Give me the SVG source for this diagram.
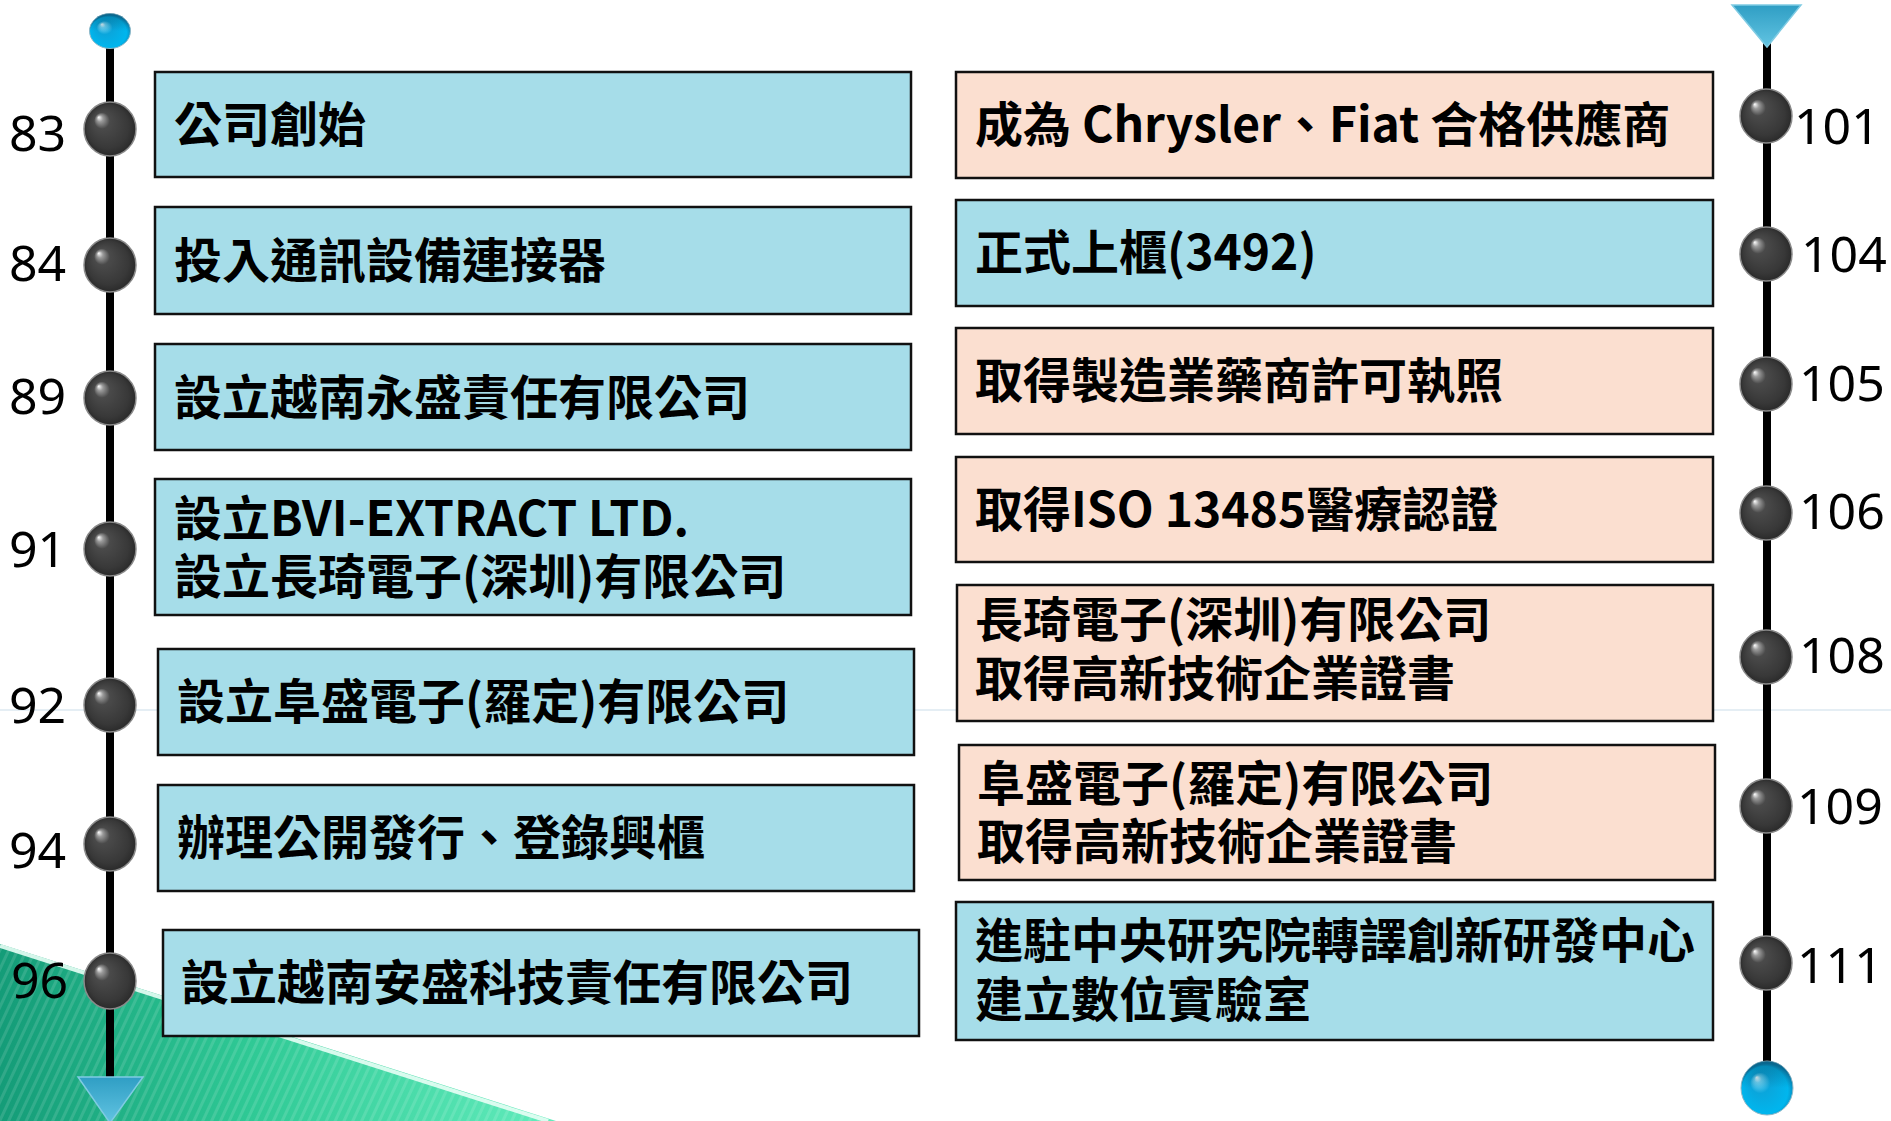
<svg xmlns="http://www.w3.org/2000/svg" width="1891" height="1121" viewBox="0 0 1891 1121">
<defs>
<radialGradient id="ball" cx="0.5" cy="0.5" r="0.5" fx="0.28" fy="0.28">
<stop offset="0" stop-color="#ffffff"/>
<stop offset="0.12" stop-color="#9a9a9a"/>
<stop offset="0.3" stop-color="#4a4a4a"/>
<stop offset="0.8" stop-color="#383838"/>
<stop offset="1" stop-color="#2a2a2a"/>
</radialGradient>
<radialGradient id="bball" cx="0.5" cy="0.6" r="0.55" fx="0.3" fy="0.3">
<stop offset="0" stop-color="#ffffff"/>
<stop offset="0.12" stop-color="#6fd0f0"/>
<stop offset="0.35" stop-color="#0aa6dc"/>
<stop offset="0.8" stop-color="#00b6ee"/>
<stop offset="1" stop-color="#0a7fb0"/>
</radialGradient>
<linearGradient id="bshade" x1="0" y1="0" x2="0" y2="1">
<stop offset="0" stop-color="#08506e" stop-opacity="0.55"/>
<stop offset="0.5" stop-color="#08506e" stop-opacity="0"/>
</linearGradient>
<linearGradient id="tri" x1="0" y1="0" x2="0" y2="1">
<stop offset="0" stop-color="#2f9ec4"/>
<stop offset="1" stop-color="#62c4e2"/>
</linearGradient>
<linearGradient id="green" x1="0" y1="0" x2="1" y2="0">
<stop offset="0" stop-color="#149c78"/>
<stop offset="0.45" stop-color="#2fc995"/>
<stop offset="1" stop-color="#62ecbc"/>
</linearGradient>
<pattern id="stripes" width="8" height="8" patternUnits="userSpaceOnUse" patternTransform="rotate(25)">
<rect width="3" height="8" fill="#ffffff" opacity="0.12"/>
</pattern>
<style>
.bx{fill:#a6dde9;stroke:#111;stroke-width:2.5}
.pk{fill:#fbdfd0;stroke:#111;stroke-width:2.5}
.t{font-family:"Noto Sans CJK TC","Noto Sans",sans-serif;font-size:48px;font-weight:bold;fill:#000}
.n{font-family:"Noto Sans","Open Sans",sans-serif;font-size:50px;fill:#000}
.ln{stroke:#000;stroke-width:8}
.ball{fill:url(#ball);stroke:#8a8a8a;stroke-width:1.5}
</style>
</defs>
<rect width="1891" height="1121" fill="#ffffff"/>
<g id="background">
<line x1="0" y1="710" x2="1891" y2="710" stroke="#dce9f0" stroke-width="1.5"/>
<polygon points="0,944 556,1121 0,1121" fill="url(#green)"/>
<polygon points="0,944 556,1121 0,1121" fill="url(#stripes)"/>
<line x1="0" y1="946" x2="548" y2="1121" stroke="#e8fff6" stroke-width="4" opacity="0.9"/>
</g>
<g id="connectors">
<line class="ln" x1="110" y1="46" x2="110" y2="1078"/>
<line class="ln" x1="1767" y1="38" x2="1767" y2="1063"/>
</g>
<g id="timeline-left-ends">
<ellipse cx="110" cy="31" rx="20.5" ry="17.5" fill="url(#bball)" stroke="#8fb8c8" stroke-width="1"/>
<ellipse cx="110" cy="31" rx="20.5" ry="17.5" fill="url(#bshade)"/>
<polygon points="78,1077 143,1077 110,1123" fill="url(#tri)" stroke="#7fcbe3" stroke-width="1.5"/>
</g>
<g id="timeline-right-ends">
<polygon points="1732,5 1801,5 1767,47" fill="url(#tri)" stroke="#7fcbe3" stroke-width="1.5"/>
<ellipse cx="1767" cy="1088" rx="26" ry="27" fill="url(#bball)" stroke="#8fb8c8" stroke-width="1"/>
<ellipse cx="1767" cy="1088" rx="26" ry="27" fill="url(#bshade)"/>
</g>
<g id="y83"><ellipse class="ball" cx="110" cy="129" rx="26" ry="27"/><text class="n" x="9" y="151">83</text></g>
<g id="y84"><ellipse class="ball" cx="110" cy="265" rx="26" ry="27"/><text class="n" x="9" y="281">84</text></g>
<g id="y89"><ellipse class="ball" cx="110" cy="398" rx="26" ry="27"/><text class="n" x="9" y="414">89</text></g>
<g id="y91"><ellipse class="ball" cx="110" cy="549" rx="26" ry="27"/><text class="n" x="9" y="567">91</text></g>
<g id="y92"><ellipse class="ball" cx="110" cy="705" rx="26" ry="27"/><text class="n" x="9" y="723">92</text></g>
<g id="y94"><ellipse class="ball" cx="110" cy="844" rx="26" ry="27"/><text class="n" x="9" y="868">94</text></g>
<g id="y96"><ellipse class="ball" cx="110" cy="981" rx="26" ry="28"/><text class="n" x="11" y="998">96</text></g>
<g id="y101"><ellipse class="ball" cx="1766" cy="116" rx="26" ry="27"/><text class="n" x="1794" y="144">101</text></g>
<g id="y104"><ellipse class="ball" cx="1766" cy="254" rx="26" ry="27"/><text class="n" x="1801" y="272">104</text></g>
<g id="y105"><ellipse class="ball" cx="1766" cy="384" rx="26" ry="27"/><text class="n" x="1799" y="401">105</text></g>
<g id="y106"><ellipse class="ball" cx="1766" cy="513" rx="26" ry="27"/><text class="n" x="1799" y="529">106</text></g>
<g id="y108"><ellipse class="ball" cx="1766" cy="657" rx="26" ry="27"/><text class="n" x="1799" y="673">108</text></g>
<g id="y109"><ellipse class="ball" cx="1766" cy="806" rx="26" ry="27"/><text class="n" x="1797" y="824">109</text></g>
<g id="y111"><ellipse class="ball" cx="1766" cy="963" rx="26" ry="27"/><text class="n" x="1797" y="983">111</text></g>
<g id="box-l1"><rect class="bx" x="155" y="72" width="756" height="105"/><text class="t" x="174" y="142">公司創始</text></g>
<g id="box-l2"><rect class="bx" x="155" y="207" width="756" height="107"/><text class="t" x="174" y="278">投入通訊設備連接器</text></g>
<g id="box-l3"><rect class="bx" x="155" y="344" width="756" height="106"/><text class="t" x="174" y="415">設立越南永盛責任有限公司</text></g>
<g id="box-l4"><rect class="bx" x="155" y="479" width="756" height="136"/><text class="t" x="174" y="536">設立BVI-EXTRACT LTD.</text><text class="t" x="174" y="594">設立長琦電子(深圳)有限公司</text></g>
<g id="box-l5"><rect class="bx" x="158" y="649" width="756" height="106"/><text class="t" x="177" y="719">設立阜盛電子(羅定)有限公司</text></g>
<g id="box-l6"><rect class="bx" x="158" y="785" width="756" height="106"/><text class="t" x="177" y="855">辦理公開發行、登錄興櫃</text></g>
<g id="box-l7"><rect class="bx" x="163" y="930" width="756" height="106"/><text class="t" x="181" y="1000">設立越南安盛科技責任有限公司</text></g>
<g id="box-r1"><rect class="pk" x="956" y="72" width="757" height="106"/><text class="t" x="975" y="142">成為 Chrysler、Fiat 合格供應商</text></g>
<g id="box-r2"><rect class="bx" x="956" y="200" width="757" height="106"/><text class="t" x="975" y="270">正式上櫃(3492)</text></g>
<g id="box-r3"><rect class="pk" x="956" y="328" width="757" height="106"/><text class="t" x="975" y="398">取得製造業藥商許可執照</text></g>
<g id="box-r4"><rect class="pk" x="956" y="457" width="757" height="105"/><text class="t" x="975" y="527">取得ISO 13485醫療認證</text></g>
<g id="box-r5"><rect class="pk" x="957" y="585" width="756" height="136"/><text class="t" x="975" y="637">長琦電子(深圳)有限公司</text><text class="t" x="975" y="696">取得高新技術企業證書</text></g>
<g id="box-r6"><rect class="pk" x="959" y="745" width="756" height="135"/><text class="t" x="977" y="801">阜盛電子(羅定)有限公司</text><text class="t" x="977" y="859">取得高新技術企業證書</text></g>
<g id="box-r7"><rect class="bx" x="956" y="902" width="757" height="138"/><text class="t" x="975" y="958">進駐中央研究院轉譯創新研發中心</text><text class="t" x="975" y="1017">建立數位實驗室</text></g>
</svg>
